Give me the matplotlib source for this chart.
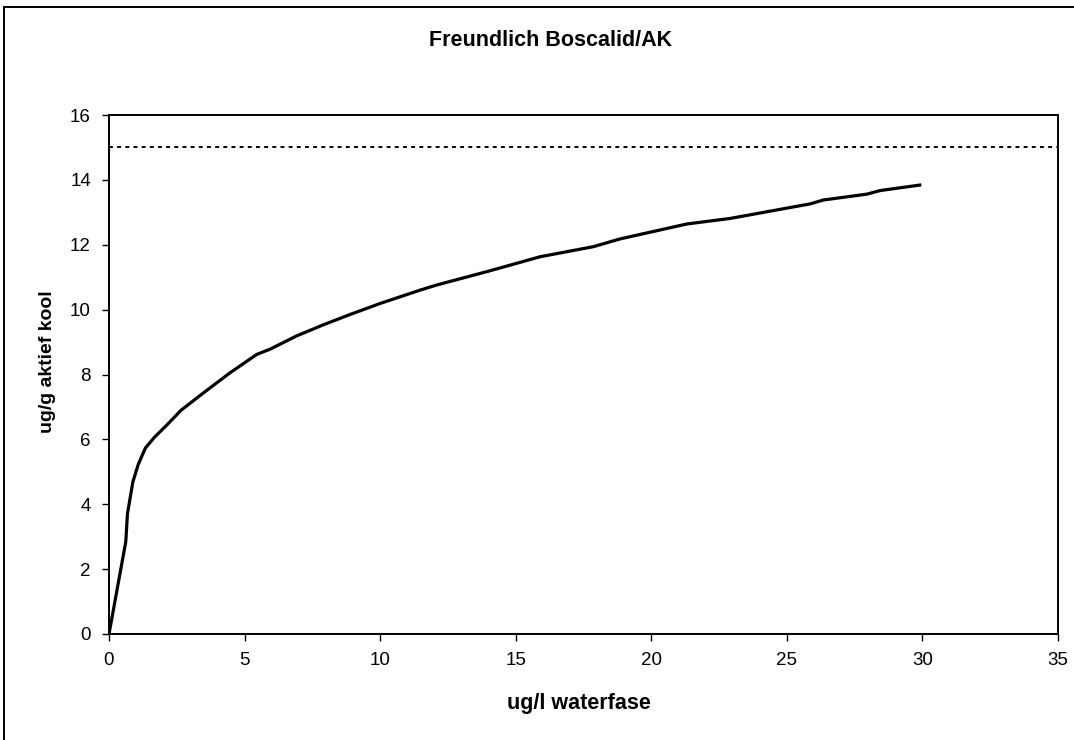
import matplotlib.pyplot as plt
from matplotlib.patches import Rectangle

# Freundlich isotherm
water_ugl = [0.0, 0.62, 0.68, 0.88, 1.08, 1.34, 1.67, 2.13, 2.66, 3.51, 4.46,
             5.45, 5.94, 6.92, 7.9, 8.89, 10.0, 11.47, 12.09, 13.93,
             15.9, 17.86, 18.85, 21.31, 22.9, 25.86, 26.35, 27.95, 28.44, 29.9]
carbon_ugg = [0.0, 2.85, 3.7, 4.69, 5.23, 5.73, 6.06, 6.44, 6.9, 7.45, 8.05,
              8.62, 8.78, 9.19, 9.53, 9.85, 10.19, 10.6, 10.76, 11.17,
              11.63, 11.94, 12.18, 12.64, 12.81, 13.26, 13.38, 13.56, 13.67, 13.84]
limit_level = 15.0

plt.rcParams.update(
    {
        "font.family": ["Liberation Sans", "DejaVu Sans"],
        "font.size": 13.5,
    }
)

W, H = 1074, 740
fig = plt.figure(figsize=(W / 100, H / 100), dpi=100)
ax = fig.add_axes([109 / W, 1 - 634 / H, (1058 - 109) / W, (634 - 115) / H])

ax.plot(water_ugl, carbon_ugg, color="black", linewidth=2.3, solid_joinstyle="round")
ax.axhline(limit_level, color="black", linewidth=1.4, linestyle=(0, (2, 2.2)))

ax.set_xlim(0, 35)
ax.set_ylim(0, 16)
ax.set_xticks(range(0, 36, 5))
ax.set_yticks(range(0, 17, 2))
ax.tick_params(direction="out", length=5, width=1, pad=8, labelsize=13.5)
for spine in ax.spines.values():
    spine.set_linewidth(1.4)

fig.text(551 / W, 1 - 40 / H, "Freundlich Boscalid/AK",
         ha="center", va="center", fontsize=15.5, fontweight="bold")
fig.text(579 / W, 1 - 704 / H, "ug/l waterfase",
         ha="center", va="center", fontsize=15.5, fontweight="bold")
fig.text(47 / W, 1 - 362 / H, "ug/g aktief kool", rotation=90,
         ha="center", va="center", fontsize=14, fontweight="bold")

# outer chart-area border (only top and left are in view)
fig.patches.append(Rectangle((4 / W, -0.1), 1.2, 1.1 - 7 / H, transform=fig.transFigure,
                             fill=False, edgecolor="black", linewidth=1.4))

fig.savefig("out.png", dpi=100)
